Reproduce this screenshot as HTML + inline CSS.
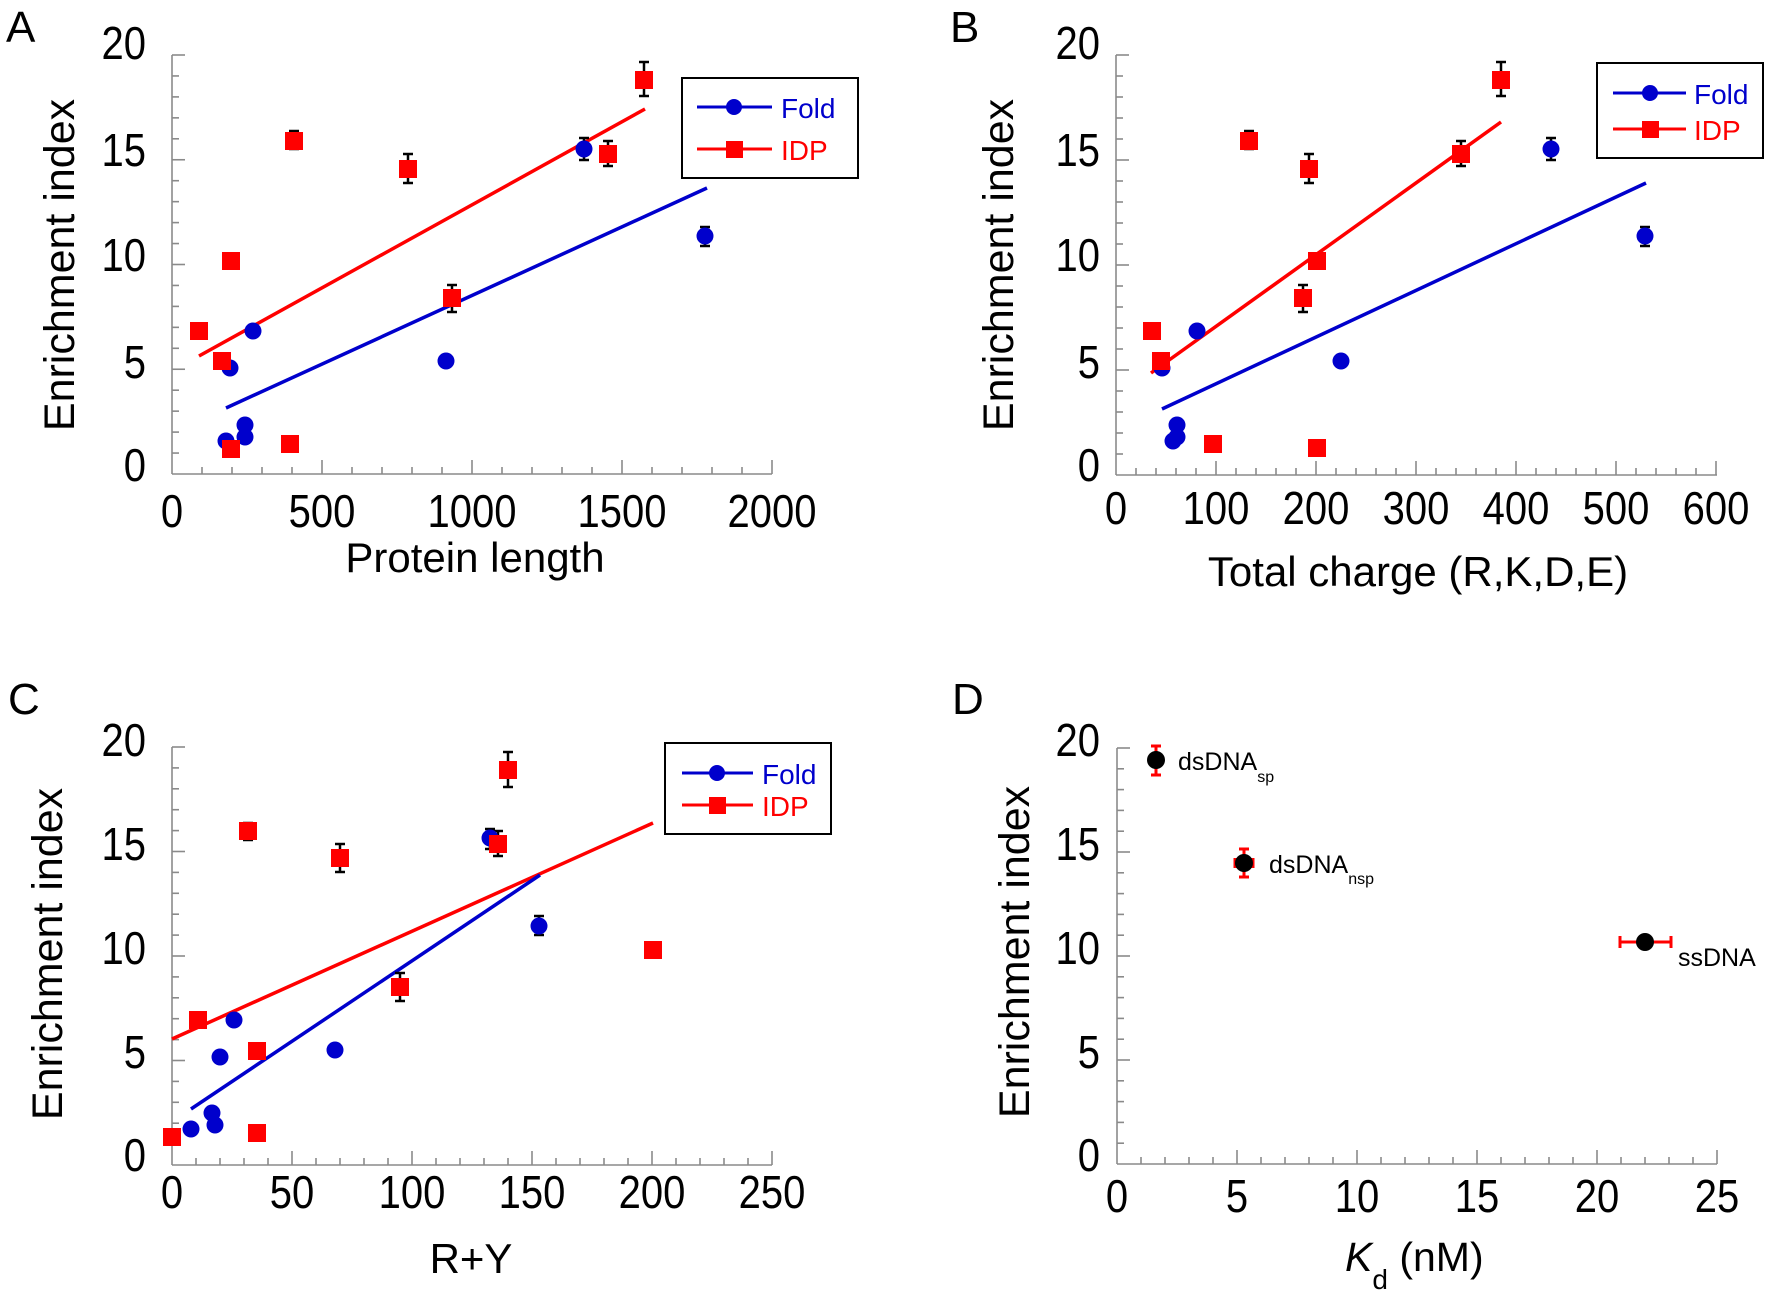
<!DOCTYPE html>
<html><head><meta charset="utf-8"><style>
html,body{margin:0;padding:0;background:#fff;}
svg{display:block;font-family:"Liberation Sans",Arial,sans-serif;}
</style></head><body>
<svg id="s" width="1770" height="1297" viewBox="0 0 1770 1297" xmlns="http://www.w3.org/2000/svg">
<g id="axes" stroke="#8a8a8a" stroke-width="1.6" fill="none"></g>

<g font-size="44" fill="#000">
<text x="6" y="42">A</text>
<text x="950" y="42">B</text>
<text x="8" y="714">C</text>
<text x="952" y="714">D</text>
</g>

<g font-size="40" fill="#000" text-anchor="end" dominant-baseline="central" transform="scale(1,1.15)">
<text x="146" y="38.26">20</text><text x="146" y="131.30">15</text><text x="146" y="222.61">10</text><text x="146" y="315.65">5</text><text x="146" y="405.22">0</text>
<text x="1100" y="38.26">20</text><text x="1100" y="131.30">15</text><text x="1100" y="222.61">10</text><text x="1100" y="315.65">5</text><text x="1100" y="405.22">0</text>
<text x="146" y="644.35">20</text><text x="146" y="734.78">15</text><text x="146" y="825.22">10</text><text x="146" y="915.65">5</text><text x="146" y="1005.22">0</text>
<text x="1100" y="644.35">20</text><text x="1100" y="734.78">15</text><text x="1100" y="825.22">10</text><text x="1100" y="915.65">5</text><text x="1100" y="1005.22">0</text>
</g>
<g font-size="40" fill="#000" text-anchor="middle" transform="scale(1,1.15)">
<text x="172" y="458.26">0</text><text x="322" y="458.26">500</text><text x="472" y="458.26">1000</text><text x="622" y="458.26">1500</text><text x="772" y="458.26">2000</text>
<text x="1116" y="455.65">0</text><text x="1216" y="455.65">100</text><text x="1316" y="455.65">200</text><text x="1416" y="455.65">300</text><text x="1516" y="455.65">400</text><text x="1616" y="455.65">500</text><text x="1716" y="455.65">600</text>
<text x="172" y="1050.43">0</text><text x="292" y="1050.43">50</text><text x="412" y="1050.43">100</text><text x="532" y="1050.43">150</text><text x="652" y="1050.43">200</text><text x="772" y="1050.43">250</text>
<text x="1117" y="1053.91">0</text><text x="1237" y="1053.91">5</text><text x="1357" y="1053.91">10</text><text x="1477" y="1053.91">15</text><text x="1597" y="1053.91">20</text><text x="1717" y="1053.91">25</text>
</g>

<g font-size="42" fill="#000" text-anchor="middle">
<text x="475" y="572">Protein length</text>
<text x="1418" y="586">Total charge (R,K,D,E)</text>
<text x="471" y="1273">R+Y</text>
<text x="1345" y="1271" text-anchor="start" font-size="41"><tspan font-style="italic">K</tspan><tspan font-size="28" dy="18">d</tspan><tspan dy="-18"> (nM)</tspan></text>
</g>
<g font-size="43" fill="#000" text-anchor="middle">
<text transform="translate(74,265) rotate(-90)">Enrichment index</text>
<text transform="translate(1013,265) rotate(-90)">Enrichment index</text>
<text transform="translate(62,954) rotate(-90)">Enrichment index</text>
<text transform="translate(1029,952) rotate(-90)">Enrichment index</text>
</g>

<g stroke-width="3.5" fill="none">
<line x1="199" y1="356" x2="645" y2="109" stroke="#ff0000"/>
<line x1="226" y1="408" x2="707" y2="188" stroke="#0000cc"/>
<line x1="1151" y1="373" x2="1501" y2="122" stroke="#ff0000"/>
<line x1="1162" y1="409" x2="1646" y2="183" stroke="#0000cc"/>
<line x1="172" y1="1039" x2="653" y2="823" stroke="#ff0000"/>
<line x1="191" y1="1109" x2="540" y2="875" stroke="#0000cc"/>
</g>
<g id="eb" stroke="#000" stroke-width="2.5" fill="none"></g>
<g id="pts"></g>

<g>
<rect x="682" y="78" width="176" height="100" fill="#fff" stroke="#000" stroke-width="2"/>
<line x1="697" y1="107" x2="772" y2="107" stroke="#0000cc" stroke-width="3"/><circle cx="734" cy="107" r="8" fill="#0000cc"/>
<text x="781" y="118" font-size="28" fill="#0000cc">Fold</text>
<line x1="697" y1="149" x2="772" y2="149" stroke="#ff0000" stroke-width="3"/><rect x="726" y="141" width="17" height="17" fill="#ff0000"/>
<text x="781" y="160" font-size="28" fill="#ff0000">IDP</text>

<rect x="1597" y="63" width="166" height="95" fill="#fff" stroke="#000" stroke-width="2"/>
<line x1="1613" y1="93" x2="1686" y2="93" stroke="#0000cc" stroke-width="3"/><circle cx="1650" cy="93" r="8" fill="#0000cc"/>
<text x="1694" y="104" font-size="28" fill="#0000cc">Fold</text>
<line x1="1613" y1="129" x2="1686" y2="129" stroke="#ff0000" stroke-width="3"/><rect x="1642" y="121" width="17" height="17" fill="#ff0000"/>
<text x="1694" y="140" font-size="28" fill="#ff0000">IDP</text>

<rect x="665" y="743" width="166" height="91" fill="#fff" stroke="#000" stroke-width="2"/>
<line x1="682" y1="773" x2="753" y2="773" stroke="#0000cc" stroke-width="3"/><circle cx="717" cy="773" r="8" fill="#0000cc"/>
<text x="762" y="784" font-size="28" fill="#0000cc">Fold</text>
<line x1="682" y1="805" x2="753" y2="805" stroke="#ff0000" stroke-width="3"/><rect x="709" y="797" width="17" height="17" fill="#ff0000"/>
<text x="762" y="816" font-size="28" fill="#ff0000">IDP</text>
</g>

<g stroke="#ff0000" stroke-width="3" fill="none">
<line x1="1156" y1="746" x2="1156" y2="775"/><line x1="1151" y1="746" x2="1161" y2="746"/><line x1="1151" y1="775" x2="1161" y2="775"/>
<line x1="1244" y1="849" x2="1244" y2="877"/><line x1="1239" y1="849" x2="1249" y2="849"/><line x1="1239" y1="877" x2="1249" y2="877"/>
<line x1="1235" y1="863" x2="1253" y2="863"/><line x1="1235" y1="858" x2="1235" y2="868"/><line x1="1253" y1="858" x2="1253" y2="868"/>
<line x1="1620" y1="942" x2="1671" y2="942"/><line x1="1620" y1="936" x2="1620" y2="948"/><line x1="1671" y1="936" x2="1671" y2="948"/>
<line x1="1645" y1="934" x2="1645" y2="950"/>
</g>
<g fill="#000">
<circle cx="1156" cy="760" r="9"/><circle cx="1244" cy="863" r="9"/><circle cx="1645" cy="942" r="9"/>
</g>
<g font-size="25" fill="#000">
<text x="1178" y="770">dsDNA<tspan font-size="16" dy="12">sp</tspan></text>
<text x="1269" y="873">dsDNA<tspan font-size="16" dy="11">nsp</tspan></text>
<text x="1678" y="966">ssDNA</text>
</g>
</svg>
<script>
(function(){
var NS="http://www.w3.org/2000/svg";
var ax=document.getElementById('axes');
function L(p,x1,y1,x2,y2,c,w){var l=document.createElementNS(NS,'line');l.setAttribute('x1',x1);l.setAttribute('y1',y1);l.setAttribute('x2',x2);l.setAttribute('y2',y2);if(c)l.setAttribute('stroke',c);if(w)l.setAttribute('stroke-width',w);p.appendChild(l);}
function axis(x0,ytop,yb,xend,ny,nx,dx){
  L(ax,x0,ytop,x0,yb);L(ax,x0,yb,xend,yb);
  var du=(yb-ytop)/ny;
  for(var i=1;i<=ny;i++){var y=yb-i*du;L(ax,x0,y,x0+(i%5==0?13:7),y);}
  for(var j=1;j<=nx;j++){var x=x0+j*dx;L(ax,x,yb,x,yb-(j%5==0?14:7));}
}
axis(172,55,474,772,20,20,30);
axis(1116,55,475,1717,20,30,20);
axis(172,747,1165,772,20,25,24);
axis(1117,748,1164,1717,20,25,24);
var eb=document.getElementById('eb');
function E(x,y1,y2){L(eb,x,y1,x,y2);L(eb,x-5,y1,x+5,y1);L(eb,x-5,y2,x+5,y2);}
var pts=document.getElementById('pts');
function C(x,y){var c=document.createElementNS(NS,'circle');c.setAttribute('cx',x);c.setAttribute('cy',y);c.setAttribute('r',8.5);c.setAttribute('fill','#0000cc');pts.appendChild(c);}
function S(x,y){var r=document.createElementNS(NS,'rect');r.setAttribute('x',x-9);r.setAttribute('y',y-9);r.setAttribute('width',18);r.setAttribute('height',18);r.setAttribute('fill','#ff0000');pts.appendChild(r);}
E(294,131,149);E(408,154,183);E(452,285,312);E(608,141,166);E(644,62,96);E(584,138,160);E(705,227,246);
E(1249,131,149);E(1309,154,183);E(1303,285,312);E(1461,141,166);E(1501,62,96);E(1551,138,160);E(1645,227,246);
E(248,823,840);E(340,844,872);E(400,973,1001);E(498,831,856);E(508,752,787);E(490,829,849);E(539,916,935);
[[226,441],[230,368],[245,425],[245,437],[253,331],[446,361],[584,149],[705,236]].forEach(function(p){C(p[0],p[1]);});
[[199,331],[222,361],[231,261],[231,449],[290,444],[294,141],[408,169],[452,298],[608,154],[644,80]].forEach(function(p){S(p[0],p[1]);});
[[1162,368],[1173,441],[1177,425],[1177,437],[1197,331],[1341,361],[1551,149],[1645,236]].forEach(function(p){C(p[0],p[1]);});
[[1152,331],[1161,361],[1213,444],[1249,141],[1309,169],[1303,298],[1317,261],[1317,448],[1461,154],[1501,80]].forEach(function(p){S(p[0],p[1]);});
[[191,1129],[212,1113],[215,1125],[220,1057],[234,1020],[335,1050],[490,838],[539,926]].forEach(function(p){C(p[0],p[1]);});
[[172,1137],[198,1020],[248,831],[257,1051],[257,1133],[340,858],[400,987],[498,844],[508,770],[653,950]].forEach(function(p){S(p[0],p[1]);});
})();
</script>
</body></html>
